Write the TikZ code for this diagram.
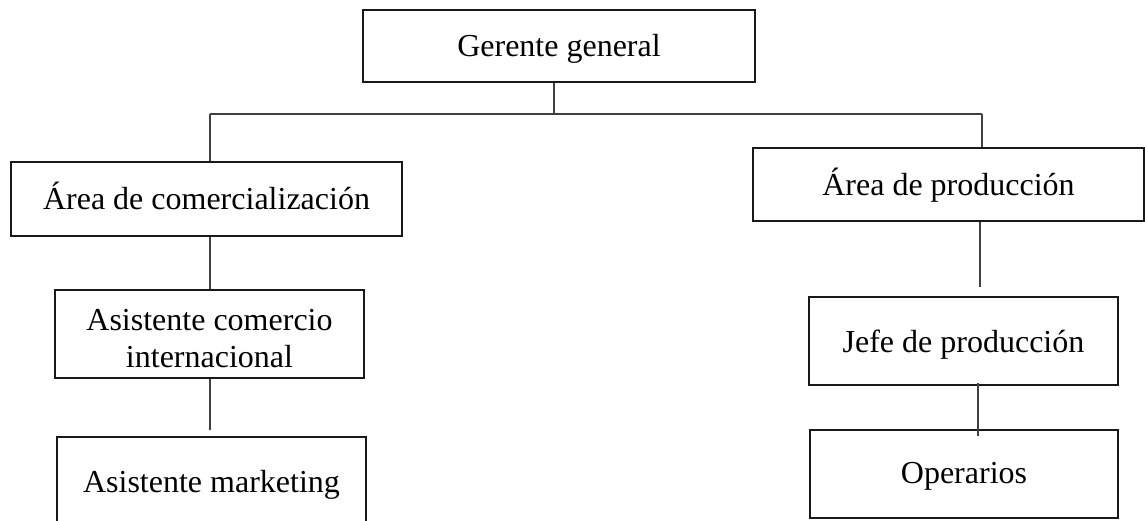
\documentclass[tikz,border=0pt]{standalone}
\usepackage{fontspec}
\setmainfont{Liberation Serif}

\begin{document}
\begin{tikzpicture}[x=1pt,y=1pt,
  box/.style={draw=black!90,line width=2pt,inner sep=0pt,minimum width=309pt,minimum height=88pt,
    align=center,font=\fontsize{32}{37}\selectfont,text height=22pt,text depth=0pt},
  link/.style={draw=black!75,line width=1.1pt}]
\clip (0,0) rectangle (1145,520);
% Top of the chart
\node[box,minimum width=392pt,minimum height=72pt,text depth=-14pt] (gg) at (559,474) {Gerente general};
\coordinate (busL) at (210,406);
\coordinate (busM) at (554,406);
\coordinate (busR) at (982,406);
\draw[link] (gg.south -| busM) -- (busM);
\draw[link] (busL) -- (busR);
% Left branch
\node[box,minimum width=391pt,minimum height=74pt] (com) at (206.5,321) {Área de comercialización};
\node[box,text height=67pt,text depth=0pt] (aci) at (209.5,186.5) {Asistente comercio\\internacional};
\node[box] (am) at (211.5,39) {Asistente marketing};
\coordinate (amtop) at (210,90);
\draw[link] (busL) -- (com.north -| busL);
\draw[link] (com.south -| busL) -- (aci.north -| busL);
\draw[link] (aci.south -| amtop) -- (amtop);
% Right branch
\node[box,minimum width=391pt,minimum height=73pt,text depth=-2pt] (prod) at (948.5,335.5) {Área de producción};
\node[box] (jefe) at (963.5,179) {Jefe de producción};
\node[box,minimum width=308pt,text depth=4pt] (op) at (964,46) {Operarios};
\coordinate (jtop) at (980,233);
\coordinate (oplow) at (978,84);
\draw[link] (busR) -- (prod.north -| busR);
\draw[link] (prod.south -| jtop) -- (jtop);
\draw[link] ([yshift=3pt]jefe.south -| oplow) -- (oplow);
\end{tikzpicture}
\end{document}
